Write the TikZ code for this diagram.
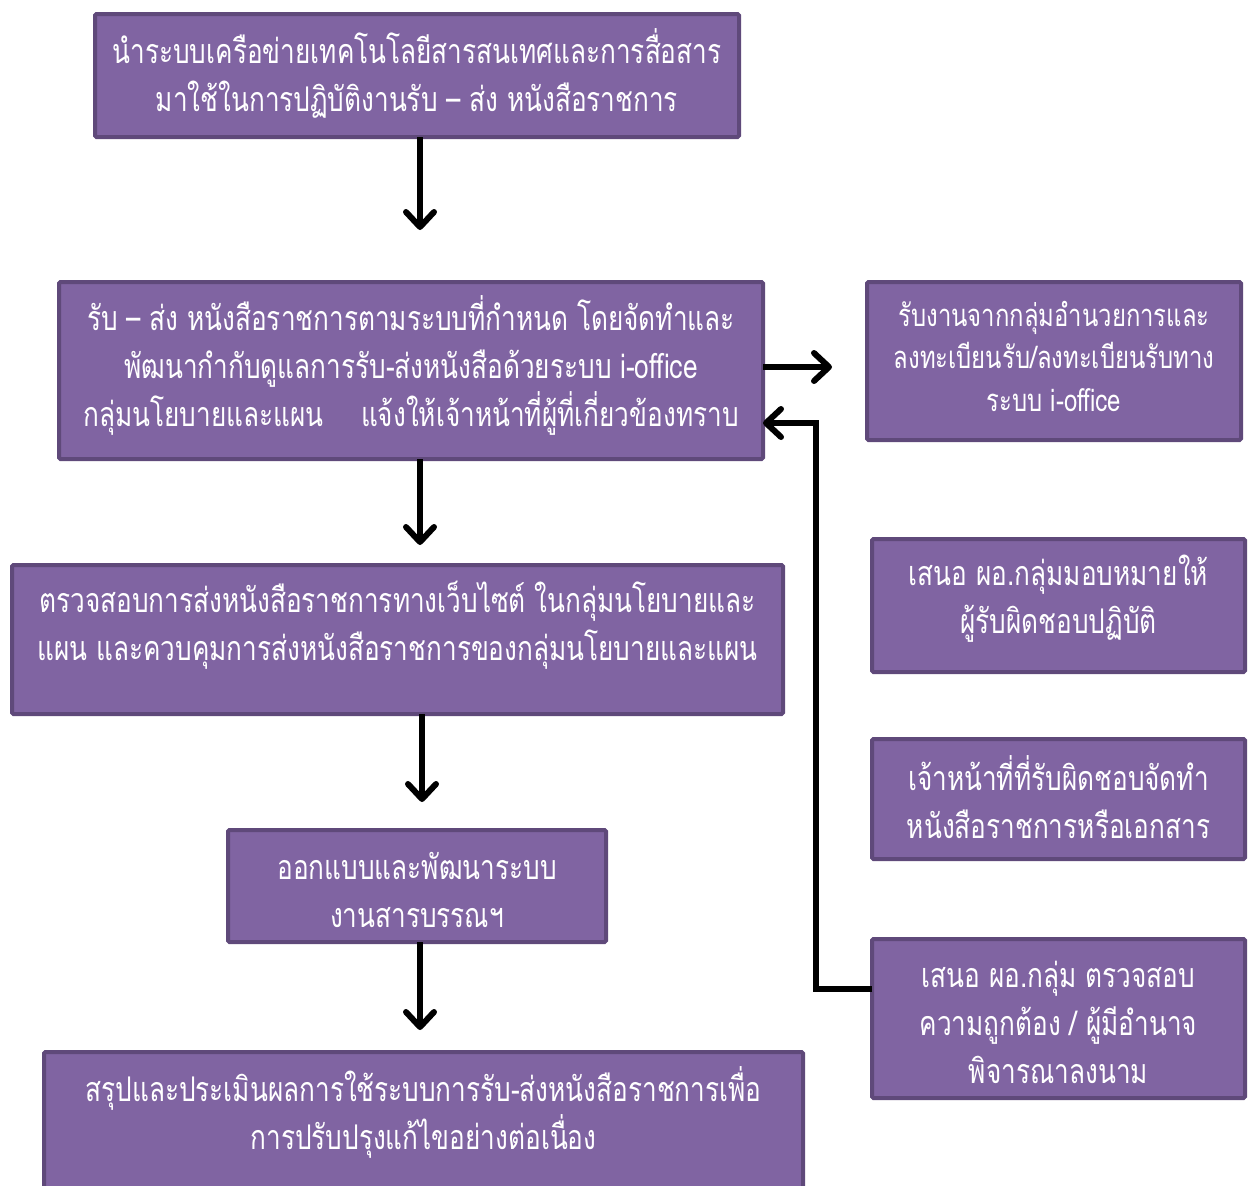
\documentclass[tikz,border=0pt]{standalone}
\usepackage{fontspec}
\newfontfamily\thaifont[Script=Thai,FakeStretch=0.77]{Loma}
\usetikzlibrary{arrows.meta,calc}
\definecolor{boxfill}{HTML}{8064A2}
\definecolor{boxline}{HTML}{5F497A}
\begin{document}
\begin{tikzpicture}[x=1pt,y=-1pt,
  box/.style={draw=boxline,fill=boxfill,line width=4pt,rounded corners=1.5pt,inner sep=0pt,outer sep=0pt},
  txt/.style={text=white,align=center,inner sep=0pt,font=\thaifont\fontsize{34}{48}\selectfont},
  smalltxt/.style={txt,font=\thaifont\fontsize{31}{42.5}\selectfont},
  arr/.style={line width=6pt,-{Straight Barb[length=15pt,width=28pt,round]}}]
\useasboundingbox (0,0) rectangle (1253,1186);
\clip (0,0) rectangle (1253,1186);
% boxes
\node[box,minimum width=644pt,minimum height=123pt] (b1) at (417,75.5) {};
\node[txt] (t1) at (417,73) {นำระบบเครือข่ายเทคโนโลยีสารสนเทศและการสื่อสาร\\มาใช้ในการปฏิบัติงานรับ – ส่ง หนังสือราชการ};
\node[box,minimum width=704pt,minimum height=177pt] (b2) at (411,370.5) {};
\node[txt] (t2) at (411,365.5) {รับ – ส่ง หนังสือราชการตามระบบที่กำหนด โดยจัดทำและ\\พัฒนากำกับดูแลการรับ-ส่งหนังสือด้วยระบบ i-office\\กลุ่มนโยบายและแผน\hspace{1.1em}แจ้งให้เจ้าหน้าที่ผู้ที่เกี่ยวข้องทราบ};
\node[box,minimum width=771pt,minimum height=149pt] (b3) at (397.5,639.5) {};
\node[txt] (t3) at (397.5,625.5) {ตรวจสอบการส่งหนังสือราชการทางเว็บไซต์ ในกลุ่มนโยบายและ\\แผน และควบคุมการส่งหนังสือราชการของกลุ่มนโยบายและแผน};
\node[box,minimum width=378pt,minimum height=112pt] (b4) at (417,886) {};
\node[txt] (t4) at (417,889.5) {ออกแบบและพัฒนาระบบ\\งานสารบรรณฯ};
\node[box,minimum width=759pt,minimum height=200pt] (b5) at (423.5,1152) {};
\node[txt] (t5) at (423.5,1112) {สรุปและประเมินผลการใช้ระบบการรับ-ส่งหนังสือราชการเพื่อ\\การปรับปรุงแก้ไขอย่างต่อเนื่อง};
\node[box,minimum width=374pt,minimum height=158pt] (r1) at (1054,361) {};
\node[smalltxt] (s1) at (1054,356) {รับงานจากกลุ่มอำนวยการและ\\ลงทะเบียนรับ/ลงทะเบียนรับทาง\\ระบบ i-office};
\node[box,minimum width=373pt,minimum height=133pt] (r2) at (1058.5,605.5) {};
\node[txt] (s2) at (1058.5,598.5) {เสนอ ผอ.กลุ่มมอบหมายให้\\ผู้รับผิดชอบปฏิบัติ};
\node[box,minimum width=373pt,minimum height=120pt] (r3) at (1058.5,799) {};
\node[txt] (s3) at (1058.5,797.5) {เจ้าหน้าที่ที่รับผิดชอบจัดทำ\\หนังสือราชการหรือเอกสาร};
\node[box,minimum width=373pt,minimum height=159pt] (r4) at (1058.5,1018.5) {};
\node[txt] (s4) at (1058.5,1022) {เสนอ ผอ.กลุ่ม ตรวจสอบ\\ความถูกต้อง / ผู้มีอำนาจ\\พิจารณาลงนาม};
% connectors
\coordinate (xa) at (420,0);
\coordinate (xb) at (422,0);
\coordinate (yr) at (0,367);
\coordinate (yf) at (0,989);
\coordinate (k) at (816,423);
\draw[arr,shorten >=52pt] (b1.south -| xa) -- (b2.north -| xa);
\draw[arr,shorten >=20pt] (b2.south -| xa) -- (b3.north -| xa);
\draw[arr,shorten >=28pt] (b3.south -| xb) -- (b4.north -| xb);
\draw[arr,shorten >=22pt] (b4.south -| xa) -- (b5.north -| xa);
\draw[arr,shorten >=35pt] (b2.east |- yr) -- (r1.west |- yr);
\draw[arr] (r4.west |- yf) -| (k) -- (k -| b2.east);
\end{tikzpicture}
\end{document}
